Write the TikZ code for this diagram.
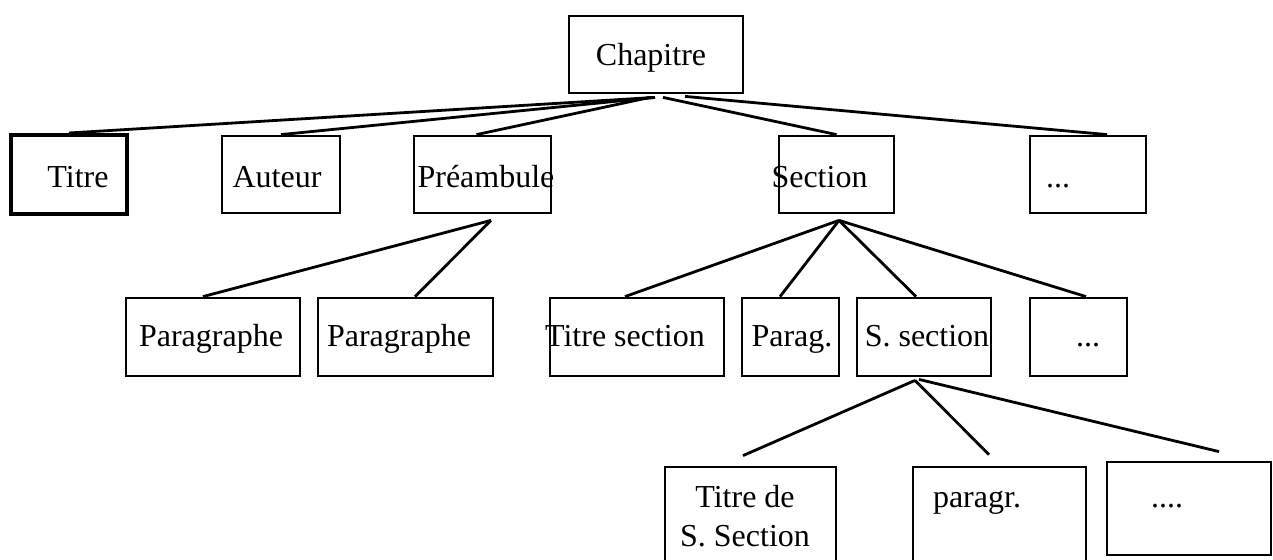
\documentclass[tikz,border=0pt]{standalone}
\usepackage{fontspec}
\setmainfont{Liberation Serif}
\usepackage{tikz}
\tikzset{boite/.style={draw, rectangle, line width=2.8pt, inner sep=0pt},
         texte/.style={inner sep=0pt, anchor=base, font=\fontsize{32}{39}\selectfont},
         trait/.style={line width=2.8pt}}

\begin{document}
\begin{tikzpicture}[x=1pt, y=-1pt]
            \clip (0,0) rectangle (1273,559);
            % row 0
            \node[boite, minimum width=174, minimum height=77] (chap) at (656,54.5) {};
            \node[texte] (chapT) at (651,66) {Chapitre};
            % row 1
            \node[boite, line width=4pt, minimum width=116, minimum height=79] (titre) at (69,174.5) {};
            \node[boite, minimum width=118, minimum height=77] (auteur) at (281,174.5) {};
            \node[boite, minimum width=137, minimum height=77] (pream) at (482.5,174.5) {};
            \node[boite, minimum width=115, minimum height=77] (sect) at (836.5,174.5) {};
            \node[boite, minimum width=116, minimum height=77] (etc1) at (1088,174.5) {};
            \node[texte] (titreT) at (78,187) {Titre};
            \node[texte] (auteurT) at (277,187) {Auteur};
            \node[texte] (preamT) at (486,187) {Préambule};
            \node[texte] (sectT) at (819.5,187) {Section};
            \node[texte] (etc1T) at (1058,187) {...};
            % row 2
            \node[boite, minimum width=174, minimum height=78] (par1) at (213,337) {};
            \node[boite, minimum width=175, minimum height=78] (par2) at (405.5,337) {};
            \node[boite, minimum width=174, minimum height=78] (tsect) at (637,337) {};
            \node[boite, minimum width=97, minimum height=78] (parag) at (790.5,337) {};
            \node[boite, minimum width=134, minimum height=78] (ssect) at (924,337) {};
            \node[boite, minimum width=97, minimum height=78] (etc2) at (1078.5,337) {};
            \node[texte] (par1T) at (211,346) {Paragraphe};
            \node[texte] (par2T) at (399,346) {Paragraphe};
            \node[texte] (tsectT) at (625,346) {Titre section};
            \node[texte] (paragT) at (792,346) {Parag.};
            \node[texte] (ssectT) at (927,346) {S. section};
            \node[texte] (etc2T) at (1088,346) {...};
            % row 3
            \node[boite, minimum width=171, minimum height=133] (tssect) at (750.5,533.5) {};
            \node[boite, minimum width=173, minimum height=133] (paragr) at (999.5,533.5) {};
            \node[boite, minimum width=164, minimum height=93] (etc3) at (1189,508.5) {};
            \node[texte, align=center] (tssectT) at (745,546) {Titre de\\S. Section};
            \node[texte] (paragrT) at (977,507) {paragr.};
            \node[texte] (etc3T) at (1167,507) {....};
            % chapitre
            \draw[trait] ([xshift=-1pt,yshift=-3pt]chap.south) -- (titre.north);
            \draw[trait] ([xshift=-1pt,yshift=-3pt]chap.south) -- (auteur.north);
            \draw[trait] ([xshift=-6pt,yshift=-3pt]chap.south) -- ([xshift=-6pt]pream.north);
            \draw[trait] ([xshift=7pt,yshift=-3pt]chap.south) -- (sect.north);
            \draw[trait] ([xshift=29pt,yshift=-2pt]chap.south) -- ([xshift=19pt]etc1.north);
            % preambule
            \draw[trait] ([xshift=8.5pt,yshift=-6pt]pream.south) -- ([xshift=-10pt]par1.north);
            \draw[trait] ([xshift=8.5pt,yshift=-6pt]pream.south) -- ([xshift=9.5pt]par2.north);
            % section
            \draw[trait] ([xshift=2.5pt,yshift=-6pt]sect.south) -- ([xshift=-12pt]tsect.north);
            \draw[trait] ([xshift=2.5pt,yshift=-6pt]sect.south) -- ([xshift=-10.5pt]parag.north);
            \draw[trait] ([xshift=2.5pt,yshift=-6pt]sect.south) -- ([xshift=-8pt]ssect.north);
            \draw[trait] ([xshift=2.5pt,yshift=-6pt]sect.south) -- ([xshift=7.5pt]etc2.north);
            % sous-section
            \draw[trait] ([xshift=-9pt,yshift=-3pt]ssect.south) -- ([xshift=-7.5pt,yshift=10pt]tssect.north);
            \draw[trait] ([xshift=-9pt,yshift=-3pt]ssect.south) -- ([xshift=-10.5pt,yshift=11pt]paragr.north);
            \draw[trait] ([xshift=-5pt,yshift=-2pt]ssect.south) -- ([xshift=30pt,yshift=9pt]etc3.north);
\end{tikzpicture}
\end{document}
